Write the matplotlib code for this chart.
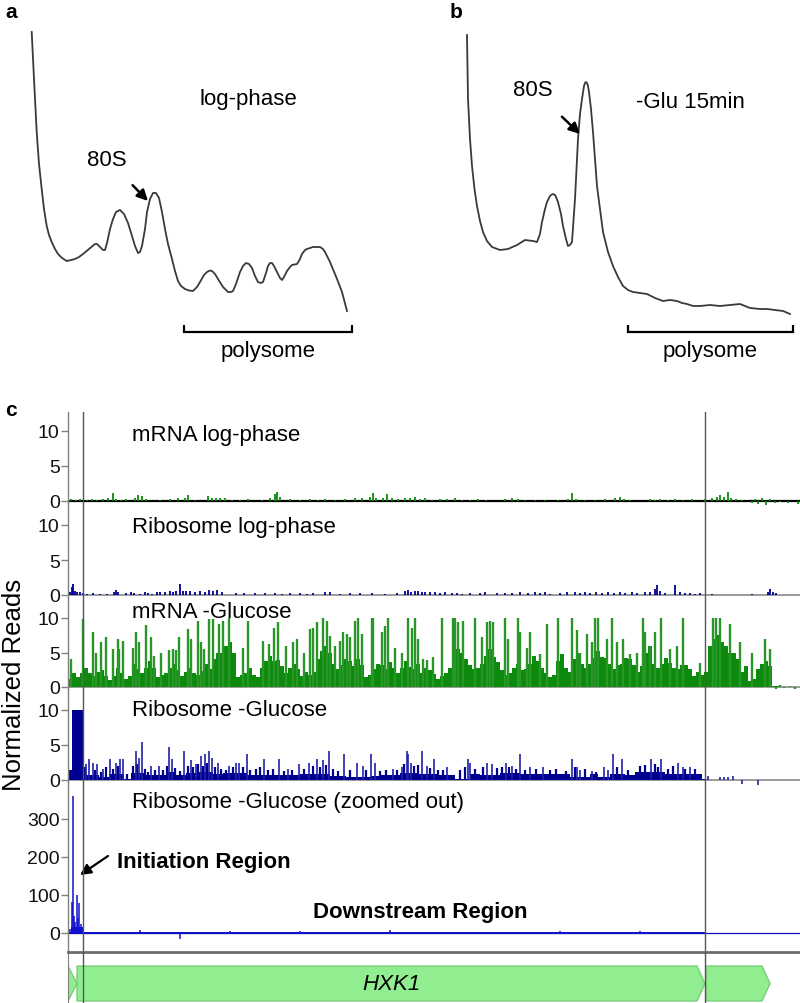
import matplotlib
matplotlib.use('Agg')
import matplotlib.pyplot as plt
from matplotlib.patches import Polygon
import numpy as np

plt.rcParams['font.family'] = ['Liberation Sans', 'DejaVu Sans']

# ---------------- data: polysome profiles (elution position, absorbance) ----------------
profile_a_x = [31.7, 34, 36.7, 39, 41.7, 44, 46.7, 49, 51.7, 55, 58, 62, 66.7, 71, 75, 79,
               83, 89, 95, 97, 100, 103, 105, 107, 110, 113, 116, 120, 124, 128, 132, 135,
               138, 140, 142, 145, 147, 150, 153, 156, 159, 162, 165, 168, 172, 175, 178, 181,
               185, 189, 193, 197, 200, 204, 207, 210, 212, 215, 218, 223, 228, 231, 233, 236,
               240, 243, 246, 249, 252, 255, 258, 261, 263, 266, 268, 270, 272, 274, 277, 280,
               282, 284, 287, 290, 292, 297, 300, 302, 305, 307, 313, 320, 323, 325, 330, 337,
               342, 347]
profile_a_y = [307, 260, 207, 175, 150, 130, 113, 104, 97, 90, 85, 81, 78, 79, 80, 82,
               85, 90, 95, 95, 92, 89, 89, 96, 110, 120, 127, 129, 125, 116, 103, 93,
               86, 87, 93, 110, 127, 140, 146, 146, 141, 127, 110, 95, 80, 68, 58, 53,
               50, 48.5, 48, 52, 57, 64, 67, 68.5, 68, 65, 60, 52, 47, 47, 48, 55,
               67, 73, 76, 75, 71, 63, 57, 56, 57, 66, 73, 76, 76, 73, 67, 61,
               59, 62, 68, 72, 74, 75, 80, 85, 89, 90, 92, 92, 90, 87, 77, 60,
               47, 28]

profile_b_x = [467, 468, 470, 472, 474.5, 477, 480, 483, 487, 492, 500, 508, 517, 525, 533,
               537, 540, 542, 545, 547, 550, 551, 553, 555, 556, 558, 561, 563, 566, 568,
               570, 572, 575, 578, 580, 582, 584, 585, 586, 587, 588, 589, 591, 593, 595,
               597, 600, 603, 608, 613, 618, 623, 628, 633, 640, 647, 655, 663, 670, 677,
               682, 687, 693, 700, 710, 720, 730, 740, 745, 750, 760, 767, 775, 783, 790]
profile_b_y = [304, 240, 200, 173, 150, 133, 118, 107, 98, 92, 89, 90, 94, 99, 98,
               97, 105, 117, 130, 137, 143, 144, 145, 144, 142, 137, 125, 113, 100, 93,
               94, 97, 140, 200, 225, 240, 253, 256, 257, 256, 253, 247, 230, 207, 180,
               153, 130, 107, 87, 73, 62, 53, 49, 47, 46, 45, 41, 38, 39, 38,
               36, 35, 33, 33, 34, 33, 34, 35, 33, 31, 30, 30, 29, 28, 25]

polysome_a = (184, 352)
polysome_b = (628, 793)
peak80S_a = (148, 138)
peak80S_b = (580, 205)

# ---------------- data: read-coverage tracks (position, normalized reads) ----------------
POS_RANGE = (68, 800)
region_marks = [83, 705]

mrna_log_pos = [71, 76, 80, 87, 92, 97, 103, 108, 113, 116, 121, 126, 135, 138, 142, 146, 160, 170,
                178, 185, 188, 195, 208, 212, 216, 220, 225, 232, 240, 248, 262, 270, 275, 277,
                280, 290, 300, 310, 318, 325, 335, 345, 355, 362, 370, 373, 376, 383, 387, 392,
                398, 405, 410, 415, 420, 425, 432, 440, 447, 455, 462, 470, 478, 486, 505, 512,
                518, 525, 535, 545, 558, 568, 572, 576, 585, 595, 605, 615, 620, 624, 630, 650,
                655, 660, 668, 675, 683, 692, 705, 712, 717, 720, 724, 728, 731, 736, 742, 752,
                755, 758, 762, 766, 770, 775, 780, 788, 798]
mrna_log_val = [0.3, 0.2, 0.25, 0.2, 0.3, 0.2, 0.3, 0.4, 1.2, 0.3, 0.2, 0.3, 0.5, 0.8, 0.7, 0.3, 0.2, 0.3,
                0.4, 0.5, 0.8, 0.2, 0.7, 0.5, 0.5, 0.4, 0.4, 0.2, 0.2, 0.3, 0.2, 0.4, 1.0, 1.3,
                0.6, 0.3, 0.2, 0.3, 0.2, 0.3, 0.2, 0.3, 0.4, 0.5, 0.6, 1.2, 0.5, 0.4, 1.0, 0.5,
                0.3, 0.5, 0.4, 0.6, 0.3, 0.5, 0.2, 0.3, 0.3, 0.4, 0.2, 0.2, 0.3, 0.2, 0.3, 0.4,
                0.3, 0.2, 0.2, 0.2, 0.2, 0.3, 1.2, 0.3, 0.2, 0.2, 0.3, 0.4, 0.6, 0.3, 0.2, 0.3,
                0.2, 0.3, 0.2, 0.3, 0.2, 0.3, 0.3, 0.4, 0.6, 0.8, 0.6, 1.3, 0.5, 0.3, 0.2, -0.3,
                0.3, -0.4, 0.4, -0.5, 0.3, -0.3, -0.2, -0.3, -0.4]

ribo_log_pos = [70, 72, 73, 75, 77, 80, 83, 87, 93, 100, 107, 114, 116, 118, 126, 131, 134, 140, 145,
                148, 152, 157, 160, 165, 170, 173, 176, 180, 183, 186, 190, 195, 200, 205, 209, 213,
                217, 222, 236, 244, 255, 265, 275, 282, 290, 300, 307, 313, 325, 330, 340, 350, 360,
                372, 385, 397, 405, 408, 411, 415, 418, 422, 425, 430, 435, 440, 445, 452, 457, 462,
                470, 480, 485, 497, 505, 512, 520, 528, 535, 540, 545, 550, 560, 567, 575, 580, 585,
                590, 596, 602, 608, 614, 620, 625, 632, 637, 645, 650, 655, 657, 660, 665, 675, 680,
                685, 690, 695, 700, 712, 752, 768, 770, 773, 776]
ribo_log_val = [0.4, 1.2, 1.6, 0.6, 0.5, 0.4, 0.3, 0.2, 0.3, 0.2, 0.2, 0.5, 0.7, 0.5, 0.3, 0.4, 0.3, 0.2, 0.4,
                0.3, 0.2, 0.4, 0.5, 0.4, 0.6, 0.5, 0.6, 1.6, 0.6, 0.6, 0.6, 0.5, 0.6, 0.5, 0.7, 0.6,
                0.7, 0.4, 0.3, 0.3, 0.3, 0.3, 0.3, 0.2, 0.3, 0.3, 0.2, 0.3, 0.5, 0.4, 0.2, 0.3, 0.3,
                0.3, 0.2, 0.3, 0.6, 0.7, 0.5, 0.6, 0.6, 0.5, 0.5, 0.4, 0.4, 0.3, 0.4, 0.3, 0.3, 0.2,
                0.3, 0.3, 0.4, 0.3, 0.3, 0.3, 0.4, 0.3, 0.4, 0.3, 0.4, 0.2, 0.3, 0.4, 0.4, 0.3, 0.5,
                0.3, 0.4, 0.3, 0.4, 0.3, 0.5, 0.3, 0.4, 0.3, 0.5, 0.5, 0.8, 1.4, 0.6, 0.3, 1.4, 0.4,
                0.3, 0.3, 0.2, 0.3, 0.2, 0.2, 0.4, 0.8, 0.5, 0.3]

mrna_glu_bin_start = 68
mrna_glu_bin_width = 4
mrna_glu_base = [1.2, 2.0, 1.5, 2.1, 2.8, 2.0, 1.6, 2.2, 2.4, 1.6, 1.0, 1.6, 2.8, 2.0, 1.2, 1.6, 3.4, 2.6, 2.0, 2.8,
                 3.8, 2.8, 1.4, 1.8, 2.0, 2.8, 3.3, 2.5, 1.6, 2.2, 2.8, 2.0, 1.7, 2.3, 3.4, 2.6, 4.0, 5.0, 5.0, 6.0,
                 6.5, 5.0, 1.4, 1.8, 2.0, 2.8, 1.8, 1.4, 2.8, 3.8, 4.5, 3.7, 3.9, 3.1, 2.0, 2.8, 3.4, 2.6, 1.6, 2.2,
                 1.8, 2.2, 4.0, 5.2, 6.0, 5.0, 3.4, 2.6, 3.2, 4.0, 3.8, 3.0, 4.0, 3.2, 1.4, 1.8, 2.6, 3.4, 3.2, 2.6,
                 3.6, 2.8, 2.0, 2.8, 3.7, 2.9, 2.6, 3.4, 2.0, 2.8, 2.5, 1.9, 1.2, 1.6, 2.0, 2.8, 4.5, 5.5, 5.0, 4.0,
                 3.2, 2.6, 2.8, 3.4, 4.5, 5.5, 4.4, 3.6, 2.4, 1.8, 2.0, 2.8, 3.3, 2.5, 2.6, 3.4, 4.5, 3.7, 2.8, 2.0,
                 1.4, 1.8, 3.8, 4.8, 2.8, 2.2, 4.0, 5.0, 3.4, 2.8, 3.4, 4.2, 5.2, 4.4, 4.2, 3.4, 2.6, 3.2, 3.4, 4.2,
                 4.0, 3.2, 2.2, 3.0, 5.0, 6.0, 3.4, 2.8, 3.4, 4.2, 3.5, 2.7, 2.6, 3.2, 3.2, 2.6, 1.6, 2.2, 1.8, 2.2,
                 6.0, 7.0, 7.5, 6.5, 6.0, 5.0, 5.0, 4.0, 2.2, 3.0, 0.8, 1.2, 2.6, 3.4, 3.8, 3.0, 0.1, 0.1, 0.05, 0.05,
                 0.05, 0.05]
mrna_glu_peak_pos = [71, 83, 93, 96, 101, 106, 113, 118, 119, 123, 133, 136, 139, 146, 151, 154, 161,
                     169, 173, 176, 179, 188, 191, 198, 201, 204, 209, 213, 219, 223, 229, 243, 248,
                     263, 269, 274, 278, 286, 293, 297, 304, 310, 313, 317, 323, 327, 330, 335, 340,
                     343, 347, 350, 355, 358, 362, 372, 373, 382, 385, 388, 395, 402, 408, 412, 415,
                     418, 423, 427, 433, 442, 453, 455, 458, 463, 475, 482, 487, 490, 493, 505, 508,
                     518, 520, 527, 530, 540, 547, 558, 572, 577, 580, 587, 592, 595, 598, 607, 612,
                     617, 623, 630, 637, 643, 645, 650, 655, 661, 670, 677, 683, 700, 713, 716, 720,
                     730, 740, 752, 765, 770, 776, 780, 784, 790, 795]
mrna_glu_peak_val = [4, 9.8, 8, 5, 6.5, 7.2, 5.5, 7, 5.5, 6.7, 5.7, 7.9, 6.5, 9, 7.2, 4.5, 5,
                     5.3, 5.5, 5.3, 7.2, 8.4, 7, 9.6, 6.5, 5.5, 9.9, 9.9, 9.1, 9.6, 10, 5.7, 9.6,
                     6.7, 6.2, 8.6, 9.4, 6, 6.5, 7, 5, 8.4, 8.6, 9.4, 10, 9.6, 7.4, 6, 6.7,
                     8, 7.7, 7.2, 9.6, 10, 7.7, 10, 10, 7.9, 8.9, 10, 5.7, 5, 10, 8.6, 10,
                     7, 4, 3.9, 4.3, 10, 10, 10, 9.4, 9.6, 10, 7.2, 9.4, 9.6, 9.4, 10, 7,
                     10, 8, 5.7, 8, 4.8, 9.1, 10, 10, 8.2, 5, 7.7, 6.5, 10, 10, 7, 10,
                     6.5, 7, 4.8, 5, 10, 8, 6, 8, 10, 5.5, 6, 10, 3.5, 10, 10, 10,
                     9.1, 6.5, 5, 6.9, 5.5, -0.3, 0.3, -0.2, 0.2, -0.3]

ribo_glu_edges = [68, 72, 83, 91, 99, 109, 124, 131, 146, 166, 176, 186, 199, 213, 223, 239, 247,
                  264, 279, 300, 330, 346, 362, 370, 380, 400, 417, 437, 455, 470, 480, 500, 520,
                  560, 570, 590, 598, 610, 625, 635, 665, 702, 706]
ribo_glu_base = [1.5, 10, 0.7, 0.7, 0.5, 0.8, 0.2, 1.0, 0.7, 1.2, 0.7, 1.0, 1.2, 0.8, 1.0, 1.0,
                 0.7, 0.7, 0.7, 0.8, 0.6, 0.5, 0.5, 0.6, 0.7, 1.0, 0.8, 0.7, 0.1, 0.8, 0.7, 1.0,
                 0.8, 0.8, 0.5, 0.8, 0.5, 0.8, 0.7, 1.2, 0.8, 0.1]
ribo_glu_peak_pos = [86, 89, 93, 97, 103, 110, 116, 120, 123, 136, 139, 142, 151, 159, 169, 172, 184,
                     191, 196, 201, 205, 209, 212, 218, 229, 236, 239, 247, 264, 279, 288, 299, 309,
                     317, 323, 329, 344, 357, 363, 371, 375, 393, 402, 407, 408, 411, 422, 427, 434,
                     447, 468, 470, 487, 492, 506, 512, 520, 530, 543, 572, 577, 580, 592, 604, 608,
                     613, 622, 651, 661, 678, 683, 690, 708, 720, 724, 728, 733, 742, 758]
ribo_glu_peak_val = [2.3, 3, 2.5, 2.3, 1.6, 3, 2.5, 3, 3, 4.2, 3.2, 5.4, 2, 2, 4.7, 3, 4.2,
                     2.8, 2.3, 3.5, 3.7, 4.2, 3.2, 2.5, 2, 2.5, 2.5, 3.7, 3, 3, 1.6, 2.3, 2.5,
                     3, 2.8, 4.2, 3.7, 2.5, 2, 3.7, 2.5, 1.6, 1.8, 4.2, 3.7, 2.5, 4.2, 2, 3,
                     1.8, 3, 2.5, 2.5, 2.3, 2.5, 2, 3.7, 1.8, 1.8, 3, 1.8, 1.5, 1.3, 1.8, 1.5,
                     3.7, 3, 3, 3, 2.5, 1.8, 1.8, 0.6, 0.5, 0.5, 0.5, 0.6, -0.6, -0.7]
ribo_glu_mid_pos = [85, 95, 101, 106, 113, 118, 127, 133, 137, 145, 148, 155, 163, 167, 175, 180,
                    188, 193, 198, 203, 207, 215, 221, 226, 233, 243, 250, 256, 260, 268, 273, 284,
                    292, 304, 313, 320, 326, 333, 338, 350, 366, 380, 386, 397, 404, 414, 418, 430,
                    438, 443, 460, 465, 475, 483, 497, 502, 509, 516, 525, 536, 550, 556, 566, 575,
                    585, 596, 617, 628, 640, 645, 655, 658, 668, 673, 685, 695]
ribo_glu_mid_val = [1.8, 1.5, 1.2, 1.8, 1.6, 2.0, 0.8, 2.0, 2.3, 1.6, 1.2, 1.4, 1.5, 2.0, 1.7, 1.3,
                    2.0, 1.8, 2.3, 2.0, 2.5, 1.8, 1.6, 1.5, 1.8, 1.9, 1.5, 1.6, 1.8, 1.4, 1.6, 1.3,
                    1.4, 1.6, 2.0, 1.8, 2.2, 1.6, 1.3, 1.4, 1.5, 1.3, 1.5, 1.4, 2.3, 2.0, 2.2, 1.7,
                    1.5, 1.4, 1.4, 1.8, 1.6, 1.9, 1.7, 1.8, 1.9, 1.6, 1.5, 1.6, 1.4, 1.6, 1.3, 1.9,
                    1.6, 1.2, 1.9, 1.5, 2.0, 2.1, 2.3, 1.8, 1.6, 2.0, 1.6, 1.6]

ribo_zoom_edges = [68, 71, 83, 706, 800]
ribo_zoom_base = [3, 16, 1.5, 0.5]
ribo_zoom_peak_pos = [70, 72, 73, 74, 75, 77, 78, 79, 81, 140, 180, 230, 300, 390, 560, 640]
ribo_zoom_peak_val = [10, 82, 360, 45, 30, 100, 40, 80, 25, 8, -15, 6, 5, 7, 6, 5]

gene_start = [68, 77, 706]
gene_end = [77, 705, 770]
gene_name = ['', 'HXK1', '']

# ---------------- colours ----------------
GREEN = '#0b8a0b'
GREEN_LIGHT = '#2a962a'
NAVY = '#000090'
BLUE = '#1010cc'
TRACE = '#3a3a3a'

W, H = 800, 1004
fig = plt.figure(figsize=(8, 10.04), dpi=100)


def rect(x0, y0, x1, y1):
    return [x0 / W, 1 - y1 / H, (x1 - x0) / W, (y1 - y0) / H]


def fx(px):
    return px / W


def fy(py):
    return 1 - py / H


# ---------------- panels a and b ----------------
ax_top = fig.add_axes(rect(0, 0, 800, 380))
ax_top.set_xlim(0, 800)
ax_top.set_ylim(-40, 340)
ax_top.axis('off')

ax_top.plot(profile_a_x, profile_a_y, color=TRACE, lw=1.3, solid_joinstyle='round')
ax_top.plot(profile_b_x, profile_b_y, color=TRACE, lw=1.3, solid_joinstyle='round')

for (x0, x1) in (polysome_a, polysome_b):
    ax_top.plot([x0, x0, x1, x1], [14, 7, 7, 14], color='black', lw=1.6,
                solid_capstyle='butt', solid_joinstyle='miter')
    ax_top.text((x0 + x1) / 2, -11, 'polysome', ha='center', va='center', fontsize=16)

ax_top.text(248, 241, 'log-phase', ha='center', va='center', fontsize=16)
ax_top.text(690, 237, '-Glu 15min', ha='center', va='center', fontsize=16)
ax_top.annotate('80S', xy=peak80S_a, xytext=(107, 180), ha='center', va='center', fontsize=16,
                arrowprops=dict(arrowstyle='-|>', color='black', lw=1.8, mutation_scale=16,
                                shrinkA=13, shrinkB=0))
ax_top.annotate('80S', xy=peak80S_b, xytext=(533, 250), ha='center', va='center', fontsize=16,
                arrowprops=dict(arrowstyle='-|>', color='black', lw=1.8, mutation_scale=16,
                                shrinkA=15, shrinkB=0))

fig.text(fx(5), fy(13), 'a', fontsize=15, fontweight='bold', va='center')
fig.text(fx(450), fy(13), 'b', fontsize=15, fontweight='bold', va='center')
fig.text(fx(5), fy(410), 'c', fontsize=15, fontweight='bold', va='center')

# ---------------- panel c tracks ----------------
tracks = [
    dict(top=413, bot=504, zero=502, ppu=7.0, ticks=[0, 5, 10], label='mRNA log-phase', ly=435,
         zc='black', zw=1.6),
    dict(top=504, bot=598, zero=596, ppu=7.0, ticks=[0, 5, 10], label='Ribosome log-phase', ly=528,
         zc='#8a8a8a', zw=1.2),
    dict(top=598, bot=690, zero=688, ppu=6.9, ticks=[0, 5, 10], label='mRNA -Glucose', ly=612,
         zc='#8a8a8a', zw=1.2),
    dict(top=690, bot=783, zero=781, ppu=7.0, ticks=[0, 5, 10], label='Ribosome -Glucose', ly=710,
         zc='#8a8a8a', zw=1.2),
    dict(top=783, bot=953, zero=934, ppu=0.38, ticks=[0, 100, 200, 300],
         label='Ribosome -Glucose (zoomed out)', ly=803, zc='#8a8a8a', zw=1.0),
]

axes = []
for t in tracks:
    ax = fig.add_axes(rect(68, t['top'], 800, t['bot']))
    ax.set_xlim(*POS_RANGE)
    ax.set_ylim(-(t['bot'] - t['zero']) / t['ppu'], (t['zero'] - t['top']) / t['ppu'])
    ax.set_facecolor('none')
    for s in ('top', 'right', 'bottom'):
        ax.spines[s].set_visible(False)
    ax.spines['left'].set_color('#808080')
    ax.spines['left'].set_linewidth(1.0)
    ax.set_xticks([])
    ax.set_yticks(t['ticks'])
    ax.tick_params(axis='y', length=5, width=1, color='#808080', labelsize=14, pad=1,
                   labelcolor='#111111')
    ax.axhline(0, color=t['zc'], lw=t['zw'], zorder=1)
    fig.text(fx(132), fy(t['ly']), t['label'], fontsize=16, va='center', ha='left')
    axes.append(ax)

ax1, ax2, ax3, ax4, ax5 = axes

# track 1: mRNA log-phase
ax1.vlines(mrna_log_pos, 0, mrna_log_val, color=GREEN, lw=1.3, clip_on=False, zorder=3)

# track 2: ribosome log-phase
ax2.vlines(ribo_log_pos, 0, ribo_log_val, color=NAVY, lw=1.3, clip_on=False, zorder=3)

# track 3: mRNA -Glucose
edges3 = mrna_glu_bin_start + mrna_glu_bin_width * np.arange(len(mrna_glu_base) + 1)
ax3.stairs(mrna_glu_base, edges3, fill=True, color=GREEN, zorder=2)
ax3.vlines(mrna_glu_peak_pos, 0, mrna_glu_peak_val, color=GREEN_LIGHT, lw=1.7,
           clip_on=False, zorder=3)

# track 4: ribosome -Glucose
ax4.stairs(ribo_glu_base, ribo_glu_edges, fill=True, color=NAVY, zorder=2)
ax4.vlines(ribo_glu_mid_pos, 0, ribo_glu_mid_val, color=NAVY, lw=1.6, clip_on=False, zorder=3)
ax4.vlines(ribo_glu_peak_pos, 0, ribo_glu_peak_val, color='#2020a8', lw=1.2, clip_on=False, zorder=3)

# track 5: ribosome -Glucose zoomed out
ax5.stairs(ribo_zoom_base, ribo_zoom_edges, fill=True, color=BLUE, zorder=2)
ax5.vlines(ribo_zoom_peak_pos, 0, ribo_zoom_peak_val, color=BLUE, lw=1.1, clip_on=False, zorder=3)
ax5.axhline(0, color=BLUE, lw=0.8, zorder=2)

fig.text(fx(117), fy(863), 'Initiation Region', fontsize=16, fontweight='bold', va='center')
fig.text(fx(313), fy(913), 'Downstream Region', fontsize=16, fontweight='bold', va='center')
ax5.annotate('', xy=(80, H - 876), xytext=(108, H - 857), xycoords='figure pixels',
             textcoords='figure pixels',
             arrowprops=dict(arrowstyle='-|>', color='black', lw=1.6, mutation_scale=16,
                             shrinkA=0, shrinkB=0))

fig.text(fx(14), fy(685), 'Normalized Reads', rotation=90, fontsize=18.5, va='center', ha='center')

# ---------------- gene annotation ----------------
axg = fig.add_axes(rect(68, 953, 800, 1004))
axg.set_xlim(*POS_RANGE)
axg.set_ylim(0, 1)
axg.set_xticks([])
axg.set_yticks([])
for s in ('right', 'bottom'):
    axg.spines[s].set_visible(False)
axg.spines['top'].set_color('#6a6a6a')
axg.spines['top'].set_linewidth(2.0)
axg.spines['left'].set_color('#808080')
axg.set_facecolor('none')

y_lo, y_hi, y_mid = 0.04, 0.725, 0.38
head = 8
for s0, s1, name in zip(gene_start, gene_end, gene_name):
    if s1 - s0 <= head + 1:
        pts = [(s0, y_hi), (s1, y_mid), (s0, y_lo)]
    else:
        pts = [(s0, y_hi), (s1 - head, y_hi), (s1, y_mid), (s1 - head, y_lo), (s0, y_lo)]
    axg.add_patch(Polygon(pts, closed=True, facecolor='#90ee90', edgecolor='#7acc7a', lw=1))
    if name:
        axg.text((s0 + s1) / 2, y_mid, name, style='italic', fontsize=16, ha='center', va='center')

for ax in axes + [axg]:
    for m in region_marks:
        ax.axvline(m, color='#555555', lw=1.0, zorder=4)

fig.savefig('out.png', dpi=100)
